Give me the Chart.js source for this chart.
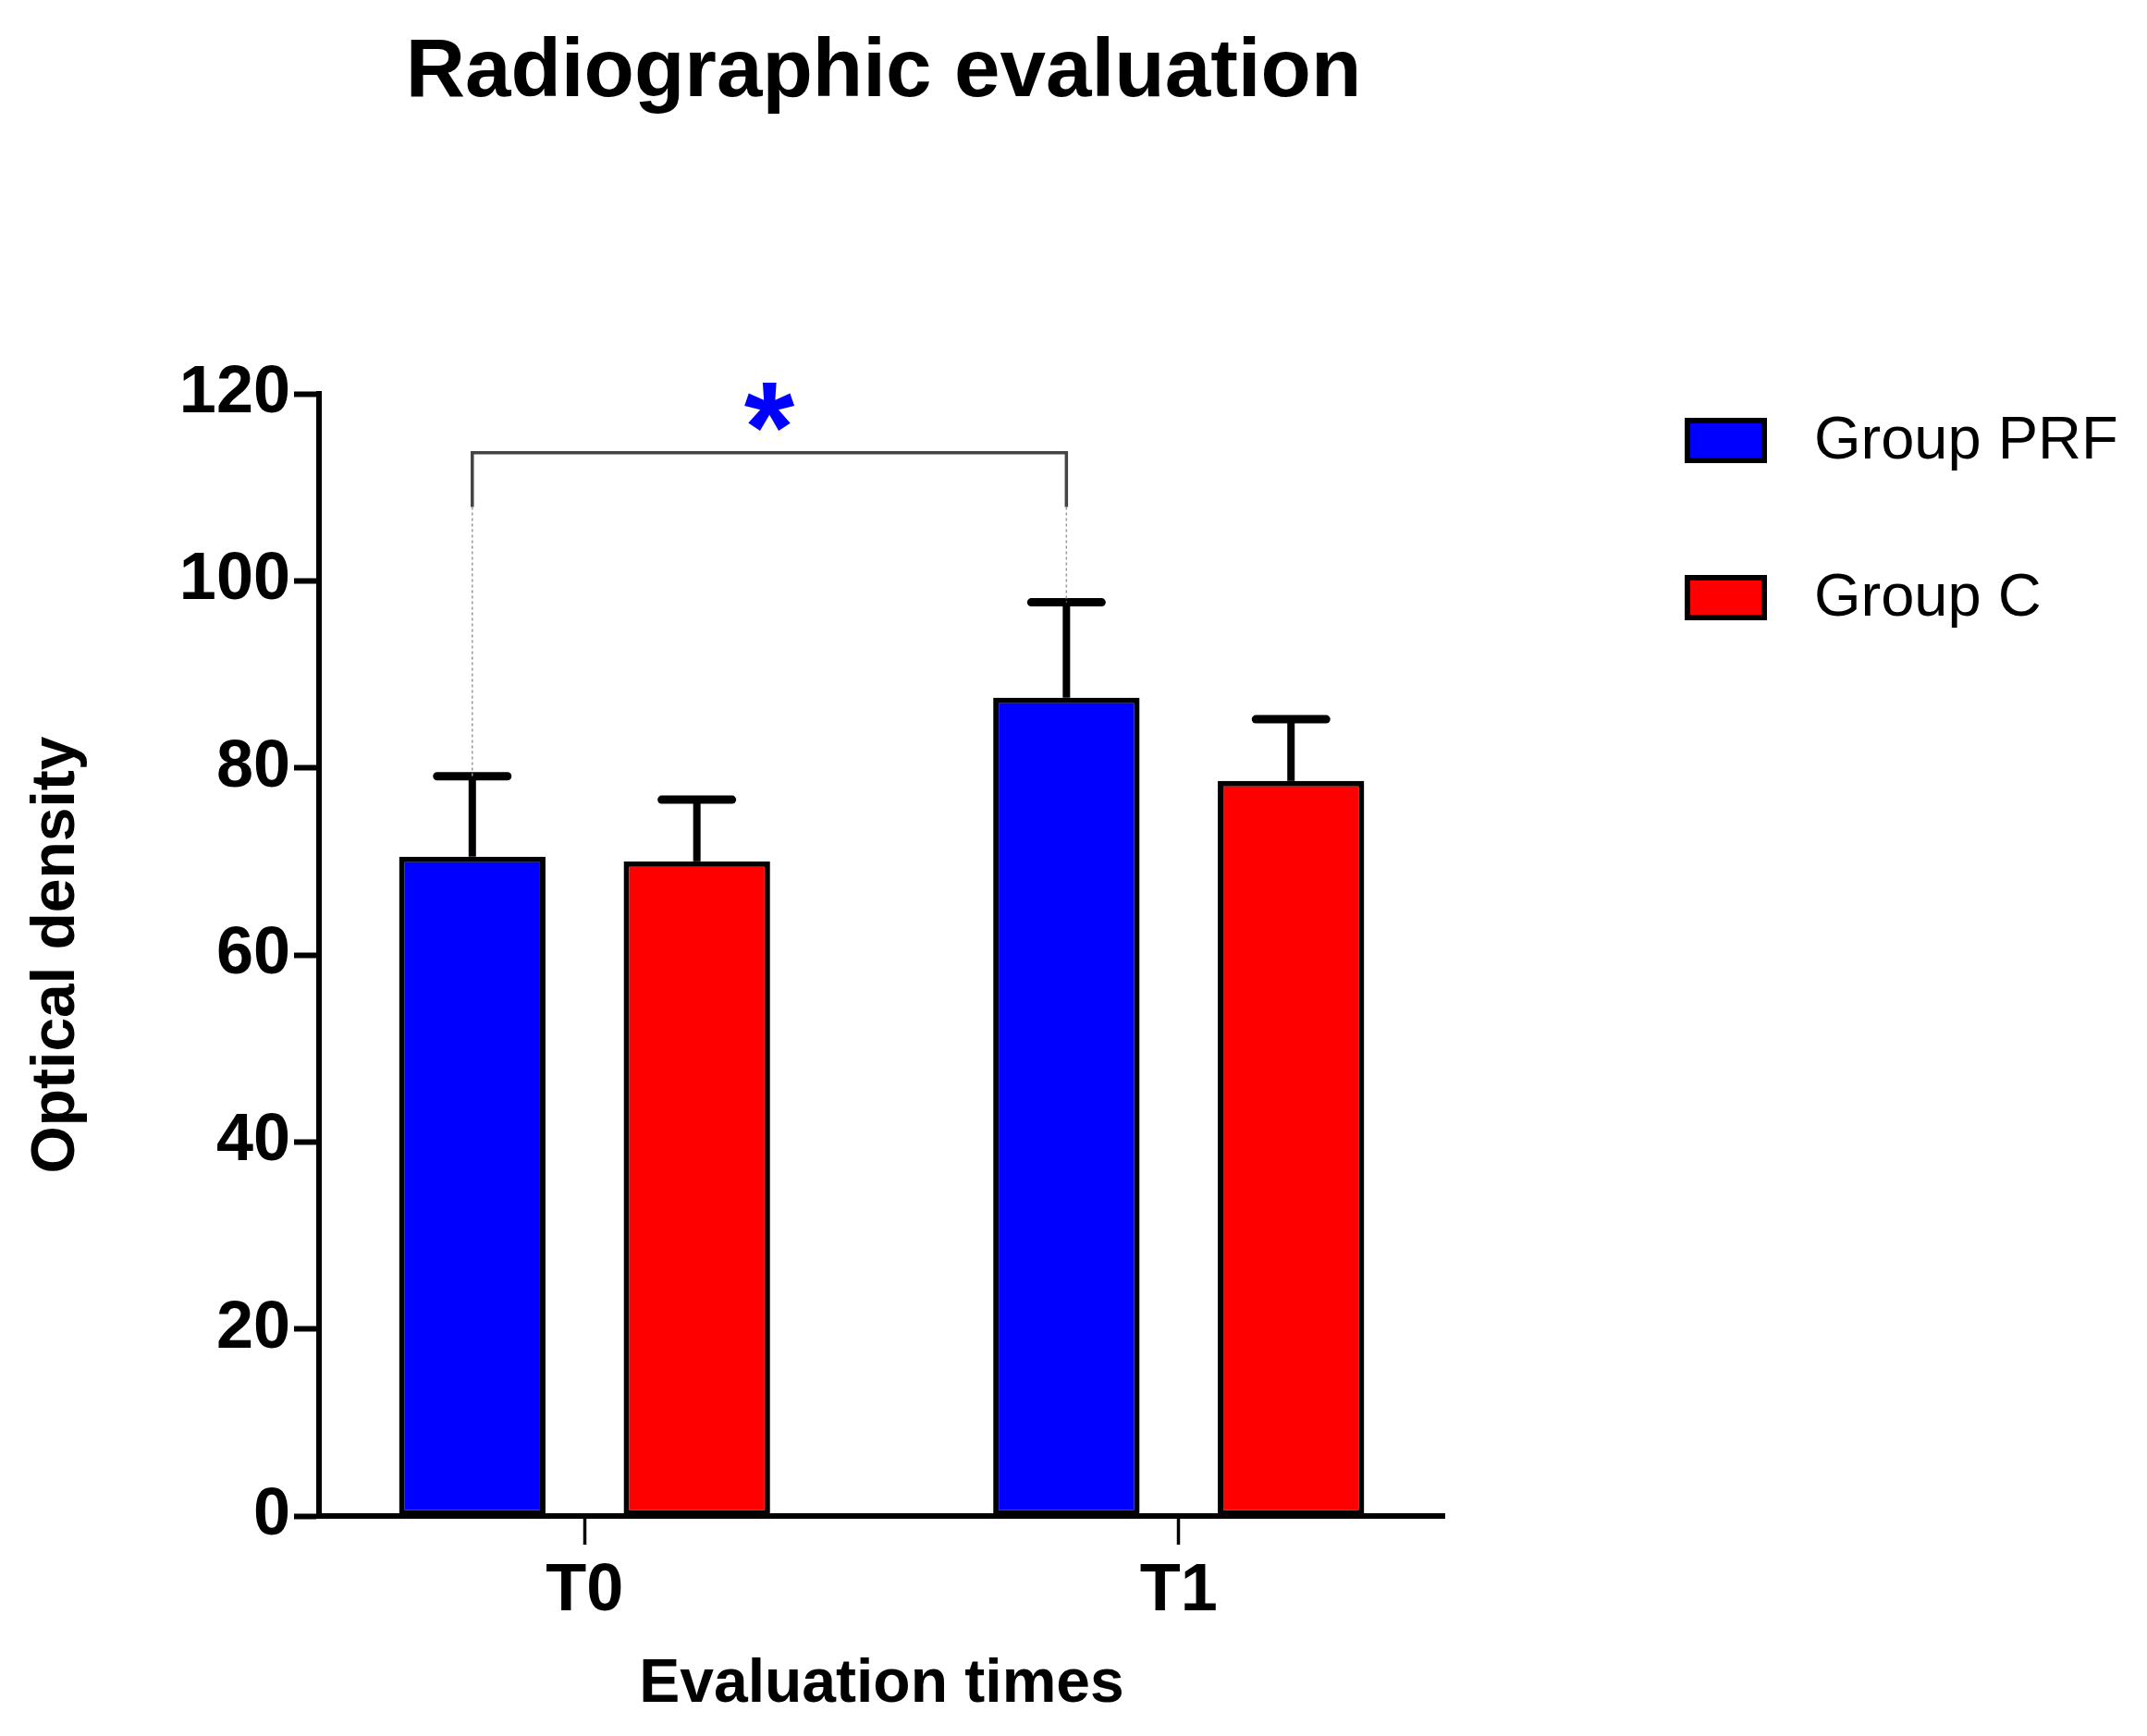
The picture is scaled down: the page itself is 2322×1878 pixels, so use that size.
<!DOCTYPE html>
<html>
<head>
<meta charset="utf-8">
<script src="https://cdn.jsdelivr.net/npm/chart.js@4.4.1/dist/chart.umd.min.js"></script>
<style>
  html, body { margin: 0; padding: 0; background: #fff; }
  #wrap { width: 2322px; height: 1878px; }
</style>
</head>
<body>
<div id="wrap"><canvas id="chart" width="2322" height="1878"></canvas></div>
<script>
var categories = ['T0', 'T1'];
var groupNames = ['Group PRF', 'Group C'];
var prfMean = [70.5, 87.5];
var prfSd = [8.6, 10.2];
var cMean = [70.0, 78.6];
var cSd = [6.6, 6.6];
var yTickValues = [0, 20, 40, 60, 80, 100, 120];

// significance bracket between PRF at T0 and PRF at T1 (data units)
var sigLevel = 113.7;
var sigLeg = 107.9;
var sigStar = 119.6;
var sigText = '*';

var FONT = '"Liberation Sans", Arial, Helvetica, sans-serif';

function points(vals) {
  return vals.map(function (v, i) { return { x: i, y: v }; });
}

var extras = {
  id: 'extras',
  afterDatasetsDraw: function (chart) {
    var ctx = chart.ctx, y = chart.scales.y;

    // error bars (mean + SD)
    chart.data.datasets.forEach(function (ds, di) {
      var meta = chart.getDatasetMeta(di);
      meta.data.forEach(function (bar, i) {
        var top = y.getPixelForValue(ds.data[i].y + ds.sd[i]);
        var half = bar.width * 0.24;
        ctx.save();
        ctx.strokeStyle = '#000';
        ctx.lineWidth = 8;
        ctx.beginPath();
        ctx.moveTo(bar.x, bar.y);
        ctx.lineTo(bar.x, top);
        ctx.stroke();
        ctx.lineWidth = 9;
        ctx.lineCap = 'round';
        ctx.beginPath();
        ctx.moveTo(bar.x - half, top);
        ctx.lineTo(bar.x + half, top);
        ctx.stroke();
        ctx.restore();
      });
    });

    // bracket
    var m = chart.getDatasetMeta(0);
    var a = m.data[0], b = m.data[1];
    var yTop = y.getPixelForValue(sigLevel);
    var yLeg = y.getPixelForValue(sigLeg);
    var aErr = y.getPixelForValue(prfMean[0] + prfSd[0]);
    var bErr = y.getPixelForValue(prfMean[1] + prfSd[1]);
    ctx.save();
    ctx.strokeStyle = '#444';
    ctx.lineWidth = 3.5;
    ctx.beginPath();
    ctx.moveTo(a.x, yLeg);
    ctx.lineTo(a.x, yTop);
    ctx.lineTo(b.x, yTop);
    ctx.lineTo(b.x, yLeg);
    ctx.stroke();
    ctx.setLineDash([3, 3]);
    ctx.lineWidth = 1.5;
    ctx.strokeStyle = '#999';
    ctx.beginPath();
    ctx.moveTo(a.x, yLeg);
    ctx.lineTo(a.x, aErr);
    ctx.moveTo(b.x, yLeg);
    ctx.lineTo(b.x, bErr);
    ctx.stroke();
    ctx.restore();

    ctx.save();
    ctx.fillStyle = '#0000ff';
    ctx.font = 'bold 140px ' + FONT;
    ctx.textAlign = 'center';
    ctx.textBaseline = 'alphabetic';
    ctx.fillText(sigText, (a.x + b.x) / 2, y.getPixelForValue(sigStar) + 80);
    ctx.restore();
  },
  afterDraw: function (chart) {
    var ctx = chart.ctx, area = chart.chartArea;
    ctx.save();
    // title
    ctx.fillStyle = '#000';
    ctx.font = 'bold 89px ' + FONT;
    ctx.textAlign = 'center';
    ctx.textBaseline = 'alphabetic';
    ctx.fillText('Radiographic evaluation', (area.left + area.right) / 2 + 2, 104);

    // legend
    ctx.font = '65px ' + FONT;
    ctx.textAlign = 'left';
    ctx.textBaseline = 'middle';
    chart.data.datasets.forEach(function (ds, i) {
      var bx = 1822, by = 452 + i * 170, bw = 89, bh = 49;
      ctx.fillStyle = ds.backgroundColor;
      ctx.fillRect(bx, by, bw, bh);
      ctx.strokeStyle = '#000';
      ctx.lineWidth = 6;
      ctx.strokeRect(bx + 3, by + 3, bw - 6, bh - 6);
      ctx.fillStyle = '#000';
      ctx.fillText(ds.label, 1962, by + bh / 2 + 2);
    });
    ctx.restore();
  }
};

new Chart(document.getElementById('chart'), {
  type: 'bar',
  data: {
    datasets: [
      {
        label: groupNames[0],
        data: points(prfMean),
        sd: prfSd,
        backgroundColor: '#0000ff',
        borderColor: '#000',
        borderWidth: 6,
        borderSkipped: false
      },
      {
        label: groupNames[1],
        data: points(cMean),
        sd: cSd,
        backgroundColor: '#ff0000',
        borderColor: '#000',
        borderWidth: 6,
        borderSkipped: false
      }
    ]
  },
  options: {
    responsive: false,
    animation: false,
    devicePixelRatio: 1,
    categoryPercentage: 0.756,
    barPercentage: 0.652,
    layout: { padding: { top: 426, right: 760, bottom: 0, left: 0 } },
    plugins: {
      legend: { display: false },
      title: { display: false },
      tooltip: { enabled: false }
    },
    scales: {
      x: {
        type: 'linear',
        min: -0.447,
        max: 1.447,
        offset: false,
        afterBuildTicks: function (s) {
          s.ticks = categories.map(function (c, i) { return { value: i }; });
        },
        afterFit: function (s) { s.height = 238; },
        border: { display: true, color: '#000', width: 6 },
        grid: {
          display: true, drawOnChartArea: false, drawTicks: true,
          tickLength: 31, tickWidth: 3.5, tickColor: '#000', offset: false
        },
        ticks: {
          color: '#000',
          font: { family: FONT, size: 72, weight: 'bold' },
          padding: 8,
          maxRotation: 0,
          autoSkip: false,
          callback: function (v) { return categories[Math.round(v)]; }
        },
        title: {
          display: true,
          text: 'Evaluation times',
          color: '#000',
          font: { family: FONT, size: 66, weight: 'bold' },
          padding: { top: 0, bottom: 16 }
        }
      },
      y: {
        min: 0,
        max: 120,
        afterBuildTicks: function (s) {
          s.ticks = yTickValues.map(function (v) { return { value: v }; });
        },
        afterFit: function (s) { s.width = 345; },
        border: { display: true, color: '#000', width: 6 },
        grid: {
          display: true, drawOnChartArea: false, drawTicks: true,
          tickLength: 27, tickWidth: 6, tickColor: '#000'
        },
        ticks: {
          color: '#000',
          font: { family: FONT, size: 72, weight: 'bold' },
          padding: 4
        },
        title: {
          display: true,
          text: 'Optical density',
          color: '#000',
          font: { family: FONT, size: 66, weight: 'bold' },
          padding: { top: 22, bottom: 0 }
        }
      }
    }
  },
  plugins: [extras]
});
</script>
</body>
</html>
